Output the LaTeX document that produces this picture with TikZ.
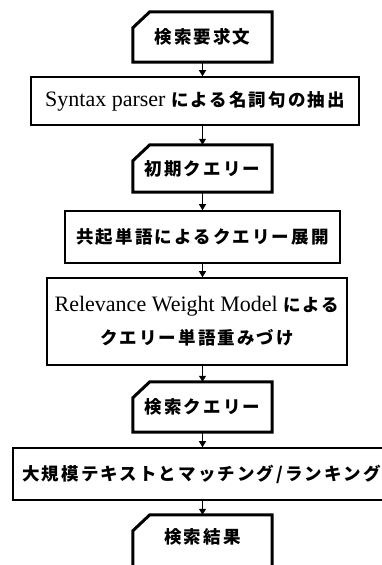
\documentclass[tikz,border=0pt]{standalone}
\usepackage{fontspec}
\setmainfont{Liberation Serif}
\newfontfamily\cjk[LetterSpace=12]{Noto Sans CJK JP}
\newcommand{\jp}[1]{{\fontsize{17.5}{33}\selectfont\bfseries\cjk #1}}
\usetikzlibrary{arrows.meta,calc}
\begin{document}
\begin{tikzpicture}[x=1pt,y=-1pt,
  lbl/.style={inner sep=0pt, font=\fontsize{22}{33}\selectfont, text=black},
  procbox/.style={lbl, draw, line width=1.6pt, minimum width=#1},
  cardnode/.style={lbl, minimum width=139pt},
  cardline/.style={line width=3pt, line join=miter},
  arr/.style={line width=1.1pt, -{Triangle[width=7pt,length=6pt]}}]
\fill[white] (0,0) rectangle (382,565);
\useasboundingbox (0,0) rectangle (382,565);
\node[cardnode, minimum height=50pt] (c1) at (202.5,37) {\jp{検索要求文}};
\node[procbox=328pt, minimum height=48pt] (b2) at (195,101) {Syntax parser \jp{による名詞句の抽出}};
\node[cardnode, minimum height=47pt] (c2) at (202.5,168.5) {\jp{初期クエリー}};
\node[procbox=275pt, minimum height=52pt] (b3) at (202.5,237) {\jp{共起単語によるクエリー展開}};
\node[procbox=300pt, minimum height=87pt, align=center] (b4) at (197,321.5) {Relevance Weight Model \jp{による}\\\jp{クエリー単語重みづけ}};
\node[cardnode, minimum height=50pt] (c3) at (202.5,407) {\jp{検索クエリー}};
\node[procbox=377pt, minimum height=52pt] (b5) at (201.5,474) {\jp{大規模テキストとマッチング/ランキング}};
\node[cardnode, minimum height=44pt] (c4) at (202.5,537) {\jp{検索結果}};
\foreach \c in {c1,c2,c3}{
  \draw[cardline] ($(\c.north west)+(0,16)$) -- ($(\c.north west)+(17,0)$) -- (\c.north east) -- (\c.south east) -- (\c.south west) -- cycle;
}
\draw[cardline] ($(c4.south west)+(0,20)$) -- ($(c4.north west)+(0,16)$) -- ($(c4.north west)+(17,0)$) -- (c4.north east) -- ($(c4.south east)+(0,20)$);
\draw[arr] (c1.south) -- (b2.north -| c1.south);
\draw[arr] (b2.south -| c2.north) -- (c2.north);
\draw[arr] (c2.south) -- (b3.north);
\draw[arr] (b3.south) -- (b4.north -| b3.south);
\draw[arr] (b4.south -| c3.north) -- (c3.north);
\draw[arr] (c3.south) -- (b5.north -| c3.south);
\draw[arr] (b5.south -| c4.north) -- (c4.north);
\end{tikzpicture}
\end{document}
